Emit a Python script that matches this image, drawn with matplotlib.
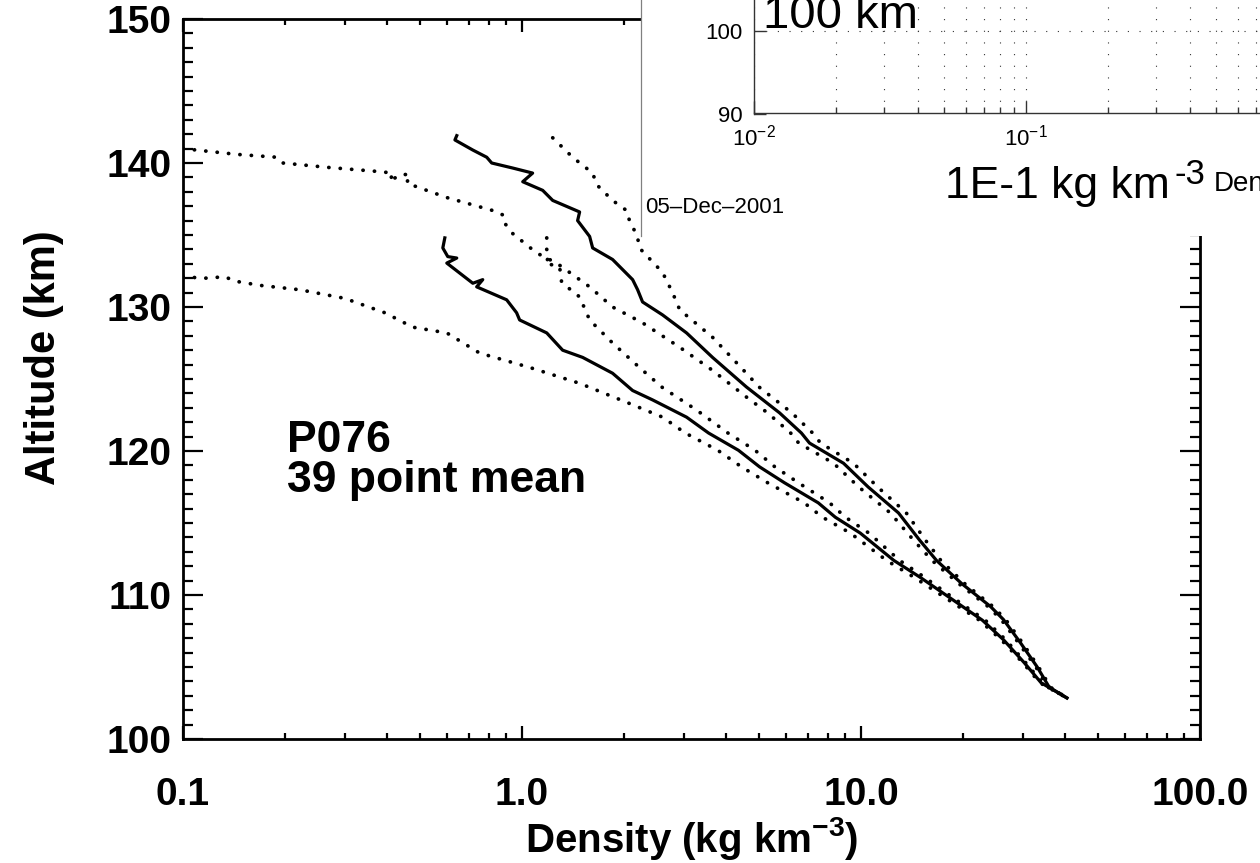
import numpy as np
import matplotlib
matplotlib.use('Agg')
import matplotlib.pyplot as plt
from matplotlib.ticker import LogLocator, MultipleLocator, NullFormatter

plt.rcParams['font.family'] = ['Liberation Sans', 'DejaVu Sans']
plt.rcParams['mathtext.fontset'] = 'custom'
plt.rcParams['mathtext.rm'] = 'Liberation Sans'
plt.rcParams['mathtext.bf'] = 'Liberation Sans:bold'

# mean profiles (solid) - density in kg km^-3, altitude in km
a_den = [0.642, 0.634, 0.716, 0.787, 0.814, 0.939, 1.075, 1.005, 1.151, 1.232, 1.479, 1.459,
         1.583, 1.616, 1.85, 2.12, 2.193, 2.268, 2.598, 3.058, 3.648, 4.59, 5.75, 6.67, 7.05,
         8.88, 10.5, 12.9, 14.9, 16.7, 19.8, 24.1, 26.3, 29.5, 33.1, 35.9, 40.5]
a_alt = [141.9, 141.6, 140.9, 140.4, 140.0, 139.65, 139.3, 138.7, 138.1, 137.4, 136.6, 136.0,
         134.9, 134.1, 133.3, 131.9, 131.2, 130.35, 129.45, 128.2, 126.5, 124.45, 122.65, 121.25, 120.55,
         119.15, 117.5, 115.7, 113.8, 112.4, 110.8, 109.2, 108.3, 106.7, 105.0, 103.6, 102.85]

b_den = [0.592, 0.584, 0.604, 0.642, 0.600, 0.716, 0.766, 0.735, 0.901, 0.964, 0.984, 1.183,
         1.318, 1.51, 1.85, 2.12, 2.427, 3.058, 3.55, 4.35, 5.02, 5.94, 7.48, 8.4, 9.95, 12.5,
         14.9, 18.7, 22.8, 26.3, 30.3, 34.0, 40.5]
b_alt = [134.8, 134.1, 133.5, 133.4, 133.05, 131.65, 131.9, 131.4, 130.5, 129.6, 129.1, 128.2,
         127.0, 126.5, 125.4, 124.2, 123.55, 122.35, 121.25, 120.05, 118.9, 117.8, 116.4, 115.4, 114.3, 112.4,
         111.25, 109.65, 108.25, 106.9, 105.3, 103.9, 102.85]

# spread profiles (dotted)
d1_den = [1.232, 1.41, 1.616, 1.66, 1.85, 2.035, 2.075, 2.19, 2.22, 2.598, 2.78, 2.92, 3.648, 4.59,
          5.0, 6.25, 7.2, 7.6, 9.5, 11.2, 13.6, 15.5, 17.2, 20.2, 24.5, 26.7, 29.9, 33.4, 36.2, 40.5]
d1_alt = [141.75, 140.4, 139.3, 138.5, 137.4, 136.7, 136.0, 134.9, 134.1, 132.4, 131.0, 129.8, 127.9, 125.4,
          124.45, 122.65, 121.25, 120.55, 119.15, 117.5, 115.7, 113.8, 112.4, 110.8, 109.2, 108.3, 106.7,
          105.0, 103.6, 102.85]

d2_den = [0.1, 0.144, 0.189, 0.197, 0.266, 0.381, 0.416, 0.407, 0.436, 0.467, 0.457, 0.600, 0.820,
          0.877, 0.877, 0.939, 1.105, 1.265, 1.583, 1.85, 2.268, 2.92, 3.648, 4.59, 5.3, 6.2, 6.55,
          8.3, 9.85, 12.2, 14.3, 16.2, 19.4, 23.7, 25.9, 29.1, 32.8, 35.6, 40.5]
d2_alt = [141.0, 140.6, 140.4, 140.0, 139.7, 139.4, 139.3, 138.7, 139.2, 139.2, 138.6, 137.6, 136.7,
          136.4, 136.0, 135.1, 133.75, 133.05, 131.4, 130.0, 128.9, 127.2, 125.6, 123.75, 122.65, 121.25, 120.55,
          119.15, 117.5, 115.7, 113.8, 112.4, 110.8, 109.2, 108.3, 106.7, 105.0, 103.6, 102.85]

d3_den = [1.183, 1.183, 1.207, 1.167, 1.291, 1.309, 1.479, 1.583, 1.85, 2.22, 2.598, 3.27, 4.05, 4.87,
          5.57, 6.53, 8.08, 9.0, 10.55, 13.0, 15.35, 19.1, 23.25, 26.7, 30.6, 34.3, 40.5]
d3_alt = [134.8, 134.0, 133.5, 133.05, 132.8, 131.7, 130.7, 129.1, 127.5, 125.8, 124.4, 122.85, 121.25, 120.05,
          118.9, 117.8, 116.4, 115.4, 114.3, 112.4, 111.25, 109.65, 108.25, 106.9, 105.3, 103.9, 102.85]

d4_den = [0.1, 0.116, 0.133, 0.142, 0.169, 0.221, 0.300, 0.394, 0.476, 0.600, 0.750, 1.054, 1.479,
          2.075, 2.598, 3.03, 3.78, 4.44, 5.3, 6.8, 7.7, 9.3, 11.9, 14.3, 18.15, 22.35, 25.9, 30.0, 33.7, 40.5]
d4_alt = [132.1, 132.0, 132.1, 131.8, 131.5, 131.2, 130.6, 129.6, 128.6, 128.2, 126.8, 125.8, 124.7,
          123.3, 122.35, 121.25, 120.05, 118.9, 117.8, 116.4, 115.4, 114.3, 112.4, 111.25, 109.65, 108.25,
          106.9, 105.3, 103.9, 102.85]

xtick_vals = [0.1, 1.0, 10.0, 100.0]
xtick_labels = ['0.1', '1.0', '10.0', '100.0']
ytick_vals = [100, 110, 120, 130, 140, 150]

fig = plt.figure(figsize=(12.6, 8.63), dpi=100)

# main plot
ax = fig.add_axes([183/1260, 1 - 739/863, 1017/1260, 720/863])
dot = (0, (0.05, 3.0))
for den, alt in [(d1_den, d1_alt), (d2_den, d2_alt), (d3_den, d3_alt), (d4_den, d4_alt)]:
    ax.plot(den, alt, color='k', lw=2.7, linestyle=dot, dash_capstyle='round')
ax.plot(a_den, a_alt, color='k', lw=2.3)
ax.plot(b_den, b_alt, color='k', lw=2.3)

ax.set_xscale('log')
ax.set_xlim(0.1, 100)
ax.set_ylim(100, 150)
ax.set_xticks(xtick_vals)
ax.set_xticklabels(xtick_labels)
ax.xaxis.set_minor_locator(LogLocator(base=10, subs=np.arange(2, 10)))
ax.xaxis.set_minor_formatter(NullFormatter())
ax.set_yticks(ytick_vals)
ax.yaxis.set_minor_locator(MultipleLocator(1))
for s in ax.spines.values():
    s.set_linewidth(2)
ax.tick_params(which='both', direction='in', top=True, right=True, width=1.6)
ax.tick_params(axis='x', which='major', length=9.5, pad=27, labelsize=28)
ax.tick_params(axis='x', which='minor', length=4.5)
ax.tick_params(axis='y', which='major', length=14.5, pad=8, labelsize=28)
ax.tick_params(axis='y', which='minor', length=7.2)
for lab in ax.get_xticklabels() + ax.get_yticklabels():
    lab.set_fontweight('bold')

ax.set_xlabel(r'Density (kg km$^{\mathbf{-3}}$)', fontsize=29, fontweight='bold')
ax.xaxis.set_label_coords(0.5, -0.105)
ax.set_ylabel('Altitude (km)', fontsize=30, fontweight='bold')
ax.yaxis.set_label_coords(-0.117, 0.53)

ax.text(0.2025, 119.93, 'P076', fontsize=32, fontweight='bold', va='baseline')
ax.text(0.2025, 117.15, '39 point mean', fontsize=32, fontweight='bold', va='baseline')

# pasted-over panel at top right
cover = fig.add_axes([641/1260, 1 - 236/863, 619/1260, 236/863])
cover.set_facecolor('white')
cover.set_xticks([])
cover.set_yticks([])
for k in ['top', 'right', 'bottom']:
    cover.spines[k].set_visible(False)
cover.spines['left'].set_color('#808080')
cover.spines['left'].set_linewidth(0.9)

axi = fig.add_axes([754/1260, 1 - 113.5/863, 506/1260, 113.5/863])
axi.set_facecolor('none')
axi.set_xscale('log')
axi.set_xlim(0.01, 10 ** (-2 + 506/272))
axi.set_ylim(90, 90 + 113.5/8.25)
axi.set_yticks([90, 100])
axi.xaxis.set_minor_locator(LogLocator(base=10, subs=np.arange(2, 10)))
axi.xaxis.set_minor_formatter(NullFormatter())
axi.grid(True, which='both', axis='x', color='#333333', lw=0.8, linestyle=(0, (1, 9.5)))
axi.grid(True, which='major', axis='y', color='#333333', lw=0.8, linestyle=(0, (1, 9.5)))
axi.spines['top'].set_visible(False)
axi.spines['right'].set_visible(False)
for k in ['left', 'bottom']:
    axi.spines[k].set_color('#333333')
    axi.spines[k].set_linewidth(1.0)
axi.tick_params(which='both', direction='in', color='#333333', width=1.0, labelsize=16, pad=8)
axi.tick_params(which='major', length=8.5)
axi.tick_params(which='minor', length=4.3)

fig.text(763/1260, 1 - 28/863, '100 km', fontsize=34, va='baseline')
fig.text(945/1260, 1 - 198/863, '1E-1 kg km', fontsize=32, va='baseline')
fig.text(1174/1260, 1 - 184/863, '-3', fontsize=25, va='baseline')
fig.text(1214/1260, 1 - 191/863, 'Density', fontsize=20, va='baseline')
fig.text(645/1260, 1 - 213/863, '05\u2013Dec\u20132001', fontsize=16, va='baseline')

fig.savefig('out.png', dpi=100)
